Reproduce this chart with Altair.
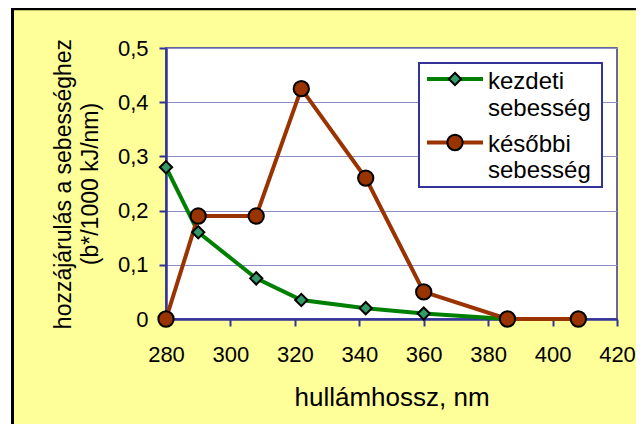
import altair as alt
import pandas as pd

# ---- data ----
wl_kezdeti = [280, 290, 308, 322, 342, 360, 386]
val_kezdeti = [0.28, 0.16, 0.075, 0.035, 0.02, 0.01, 0.0]
wl_kesobbi = [280, 290, 308, 322, 342, 360, 386, 408]
val_kesobbi = [0.0, 0.19, 0.19, 0.425, 0.26, 0.05, 0.0, 0.0]
x_ticks = [280, 300, 320, 340, 360, 380, 400, 420]
y_ticks = [0, 0.1, 0.2, 0.3, 0.4, 0.5]
series_names = ["kezdeti sebesség", "későbbi sebesség"]
legend_labels = ["kezdeti\nsebesség", "későbbi\nsebesség"]
x_title = "hullámhossz, nm"
y_title = ["hozzájárulás a sebességhez", "(b*/1000 kJ/nm)"]

GREEN = "#008000"
GREEN_FILL = "#339966"
BROWN = "#993300"
NAVY = "#333399"
FONT = "Liberation Sans"
W, H = 451, 271

df1 = pd.DataFrame({"wl": wl_kezdeti, "v": val_kezdeti, "s": series_names[0]})
df2 = pd.DataFrame({"wl": wl_kesobbi, "v": val_kesobbi, "s": series_names[1]})
dummy = pd.DataFrame({"d": [0]})

xenc = alt.X("wl:Q", scale=alt.Scale(domain=[280, 420], nice=False, zero=False),
             axis=alt.Axis(values=x_ticks, title=x_title, grid=False,
                           labelFlush=False, labelOverlap=False,
                           labelBaseline="alphabetic", labelPadding=35.5,
                           titleFontSize=26,
                           titleY=86.5, titleBaseline="alphabetic"))
yenc = alt.Y("v:Q", scale=alt.Scale(domain=[0, 0.5], nice=False),
             axis=alt.Axis(values=y_ticks, title=y_title, grid=True,
                           gridColor="#8C8CC8", gridWidth=1,
                           labelExpr="datum.value == 0 ? '0' : replace(format(datum.value, '.1f'), '.', ',')",
                           labelPadding=11, titleX=-95.5, titleY=H / 2,
                           titleAngle=-90, titleBaseline="alphabetic",
                           titleLineHeight=26.5, titleAlign="center"))

line1 = alt.Chart(df1).mark_line(color=GREEN, strokeWidth=4).encode(x=xenc, y=yenc)
line2 = alt.Chart(df2).mark_line(color=BROWN, strokeWidth=4).encode(x=xenc, y=yenc)
pts1 = alt.Chart(df1).mark_point(shape="diamond", filled=True, fill=GREEN_FILL,
                                 stroke="black", strokeWidth=2, size=150,
                                 opacity=1).encode(x=xenc, y=yenc)
pts2 = alt.Chart(df2).mark_point(shape="circle", filled=True, fill=BROWN,
                                 stroke="black", strokeWidth=2, size=235,
                                 opacity=1).encode(x=xenc, y=yenc)

# ---- outer frame decoration ----
white_strip = alt.Chart(dummy).mark_rule(color="white", strokeWidth=3).encode(
    x=alt.value(-156.5), y=alt.value(-40), y2=alt.value(400))
frame_left = alt.Chart(dummy).mark_rule(color="black", strokeWidth=3).encode(
    x=alt.value(-153.5), y=alt.value(-40), y2=alt.value(400))
frame_top = alt.Chart(dummy).mark_rule(color="black", strokeWidth=2.5).encode(
    y=alt.value(-39), x=alt.value(-155), x2=alt.value(500))

# ---- legend (manual) ----
leg_box = alt.Chart(dummy).mark_rect(fill="white", stroke=NAVY, strokeWidth=2).encode(
    x=alt.value(253), x2=alt.value(436), y=alt.value(15), y2=alt.value(139))
leg_parts = []
for i, (lab, col, shape, fill, size) in enumerate([
        (legend_labels[0], GREEN, "diamond", GREEN_FILL, 150),
        (legend_labels[1], BROWN, "circle", BROWN, 235)]):
    ly = 31 + i * 63.5
    ty = 41 + i * 62.5
    leg_parts.append(alt.Chart(dummy).mark_rule(color=col, strokeWidth=4).encode(
        x=alt.value(261), x2=alt.value(317), y=alt.value(ly)))
    leg_parts.append(alt.Chart(dummy).mark_point(shape=shape, filled=True, fill=fill,
                                                 stroke="black", strokeWidth=2,
                                                 size=size, opacity=1).encode(
        x=alt.value(289), y=alt.value(ly)))
    leg_parts.append(alt.Chart(dummy).mark_text(
        align="left", baseline="alphabetic", font=FONT, fontSize=24,
        lineBreak="\n", lineHeight=26.5, color="black").encode(
        x=alt.value(322), y=alt.value(ty), text=alt.value(lab)))

chart = alt.layer(white_strip, frame_left, frame_top, line1, line2, pts1, pts2,
                  leg_box, *leg_parts).properties(
    width=W, height=H,
    padding={"left": 158, "top": 40, "right": 19, "bottom": 105},
    autosize=alt.AutoSizeParams(type="none"),
    background="#FFFF99",
).configure_view(
    fill="white", stroke=NAVY, strokeWidth=1.5
).configure_axis(
    domainColor=NAVY, domainWidth=2.5, tickColor=NAVY, tickWidth=2, tickSize=7,
    labelFont=FONT, labelFontSize=22, labelColor="black",
    titleFont=FONT, titleFontSize=23, titleFontWeight="normal", titleColor="black",
)

chart.save("out.html", embed_options={"renderer": "svg", "actions": False})
